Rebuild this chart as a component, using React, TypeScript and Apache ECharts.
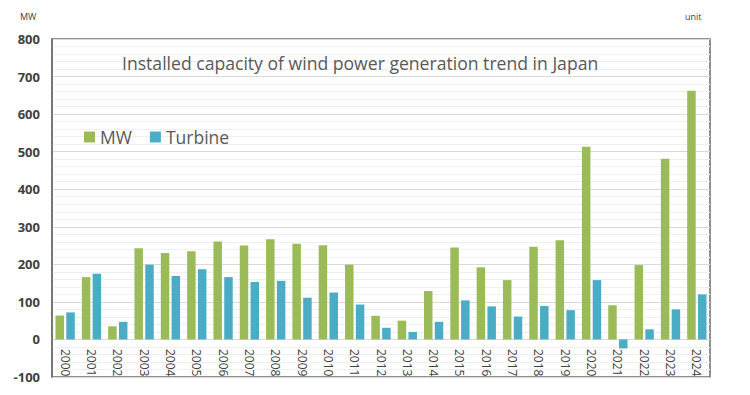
import React, { useEffect, useRef } from "react";
import * as echarts from "echarts";

const years = ["2000","2001","2002","2003","2004","2005","2006","2007","2008","2009","2010","2011","2012","2013","2014","2015","2016","2017","2018","2019","2020","2021","2022","2023","2024"];
const mwValues = [64,166,35,243,230,235,261,250,267,255,251,199,63,50,129,245,192,158,247,264,513,91,198,481,662];
const turbineValues = [72,175,47,199,169,187,166,153,156,111,125,93,31,20,47,104,88,61,89,78,158,-24,27,80,120];

const titleText = "Installed capacity of wind power generation trend in Japan";
const unitLeft = "MW";
const unitRight = "unit";

export default function App() {
  const ref = useRef<HTMLDivElement>(null);
  useEffect(() => {
    if (!ref.current) return;
    const chart = echarts.init(ref.current, null, { renderer: "svg" });
    chart.setOption({
      animation: false,
      backgroundColor: "#ffffff",
      textStyle: { fontFamily: "Open Sans" },
      title: {
        text: titleText,
        left: 117,
        top: 49,
        textStyle: { fontFamily: "Open Sans", fontSize: 17.6, fontWeight: "normal", color: "#595959" },
      },
      legend: {
        left: 79,
        top: 123,
        itemWidth: 11,
        itemHeight: 11,
        itemGap: 18,
        icon: "rect",
        textStyle: { fontFamily: "Open Sans", fontSize: 17.5, color: "#595959" },
        data: ["MW", "Turbine"],
      },
      graphic: [
        { type: "text", left: 20, top: 12, style: { text: unitLeft, fontSize: 9, fontFamily: "Open Sans", fill: "#404040" } },
        { type: "text", left: 685, top: 12, style: { text: unitRight, fontSize: 9, fontFamily: "Open Sans", fill: "#404040" } },
      ],
      grid: {
        left: 52,
        right: 40,
        top: 39,
        bottom: 18,
        show: true,
        borderColor: "#6e6e6e",
        borderWidth: 1.5,
        containLabel: false,
        outerBoundsMode: "none",
      },
      xAxis: {
        type: "category",
        data: years,
        position: "bottom",
        axisLine: { show: false, onZero: false },
        axisTick: { show: false },
        axisLabel: { rotate: -90, margin: -28, fontSize: 12, color: "#404040", fontFamily: "Open Sans" },
      },
      yAxis: {
        type: "value",
        min: -100,
        max: 800,
        interval: 100,
        axisLine: { show: true, lineStyle: { color: "#6e6e6e", width: 1.5 } },
        axisTick: { show: false },
        axisLabel: { margin: 12, fontSize: 13, fontWeight: "bold", color: "#404040", fontFamily: "Open Sans" },
        splitLine: { show: true, lineStyle: { color: "#d9d9d9", width: 1 } },
        minorTick: { show: false, splitNumber: 5 },
        minorSplitLine: { show: true, lineStyle: { color: "#efefef", width: 1 } },
      },
      series: [
        {
          name: "MW",
          type: "bar",
          data: mwValues,
          barWidth: 8.5,
          barGap: "27%",
          itemStyle: { color: "#9BBB59" },
        },
        {
          name: "Turbine",
          type: "bar",
          data: turbineValues,
          barWidth: 8.5,
          itemStyle: { color: "#4BACC6" },
        },
      ],
    });
    return () => chart.dispose();
  }, []);
  return <div ref={ref} style={{ width: 750, height: 395, margin: -8 }} />;
}
